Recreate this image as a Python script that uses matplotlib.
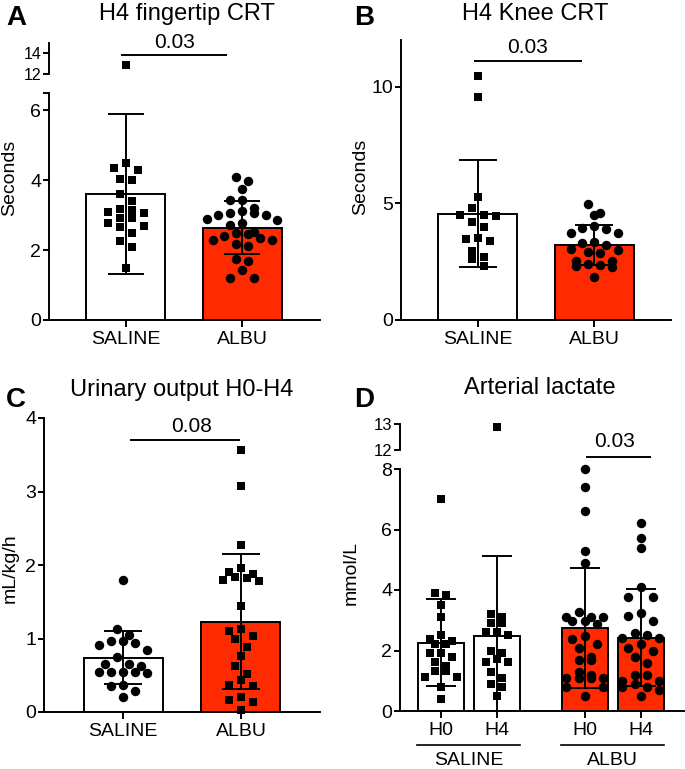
import numpy as np
import matplotlib
matplotlib.use("Agg")
import matplotlib.pyplot as plt

plt.rcParams['font.family'] = ['Liberation Sans', 'DejaVu Sans']

# ---- data ----
groups = ['SALINE', 'ALBU']

# A: H4 fingertip CRT (seconds)
crt_finger_saline = [12.9, 4.5, 4.36, 4.29, 4.05, 4.0, 3.6, 3.4, 3.19, 3.14, 3.1,
                     3.05, 2.93, 2.92, 2.78, 2.7, 2.65, 2.5, 2.27, 2.08, 1.5]
crt_finger_albu = [4.10, 3.97, 3.76, 3.43, 3.43, 3.21, 3.11, 3.07, 3.05, 3.0, 3.0,
                   2.88, 2.86, 2.79, 2.73, 2.52, 2.49, 2.45, 2.41, 2.35, 2.29, 2.29,
                   2.19, 2.11, 1.76, 1.69, 1.43, 1.19, 1.19]
crt_finger_mean = [3.62, 2.64]
crt_finger_sd = [2.29, 0.76]

# B: H4 knee CRT (seconds)
crt_knee_saline = [10.47, 9.57, 5.29, 4.79, 4.5, 4.46, 4.5, 4.21, 4.0, 3.5, 3.47,
                   3.39, 2.97, 2.71, 2.6, 2.33]
crt_knee_albu = [4.97, 4.6, 4.5, 4.03, 3.93, 3.89, 3.74, 3.71, 3.36, 3.29, 3.21,
                 3.03, 3.0, 2.9, 2.86, 2.54, 2.53, 2.4, 2.36, 2.31, 2.29, 1.83]
crt_knee_mean = [4.55, 3.21]
crt_knee_sd = [2.29, 0.85]

# C: urinary output H0-H4 (mL/kg/h)
urine_saline = [1.79, 1.13, 1.05, 0.97, 0.97, 0.94, 0.91, 0.85, 0.75, 0.65, 0.65,
                0.63, 0.55, 0.55, 0.53, 0.55, 0.55, 0.37, 0.36, 0.28, 0.2]
urine_albu = [3.57, 3.07, 2.27, 1.96, 1.91, 1.88, 1.83, 1.82, 1.8, 1.78, 1.44, 1.13,
              1.1, 1.03, 0.99, 0.88, 0.76, 0.62, 0.52, 0.43, 0.37, 0.35, 0.21,
              0.17, 0.14, 0.03]
urine_mean = [0.74, 1.23]
urine_sd = [0.365, 0.92]

# D: arterial lactate (mmol/L), H0 / H4 per group
times = ['H0', 'H4']
lact_saline_h0 = [7.0, 3.91, 3.83, 3.5, 3.1, 2.51, 2.38, 2.31, 2.21, 2.21, 1.93,
                  1.93, 1.8, 1.63, 1.49, 1.32, 1.32, 1.11, 1.11, 0.8, 0.4]
lact_saline_h4 = [12.9, 3.21, 3.1, 2.9, 2.9, 2.6, 2.6, 2.51, 1.99, 1.93, 1.71, 1.63,
                  1.63, 1.3, 1.08, 0.89, 0.78, 0.5]
lact_albu_h0 = [8.0, 7.4, 6.6, 5.29, 4.9, 3.28, 3.1, 3.1, 3.1, 2.99, 2.99, 2.88,
                2.48, 2.38, 2.2, 2.07, 1.8, 1.69, 1.69, 1.3, 1.19, 1.1, 1.1, 1.1,
                1.1, 0.8, 0.8, 0.5]
lact_albu_h4 = [6.2, 5.73, 5.4, 4.09, 3.78, 3.78, 3.23, 3.14, 2.99, 2.59, 2.51,
                2.4, 2.4, 2.2, 2.09, 1.99, 1.8, 1.6, 1.19, 1.19, 1.0, 1.0, 0.89,
                0.78, 0.78, 0.69, 0.5]
lact_mean = [2.25, 2.49, 2.75, 2.42]
lact_sd = [1.44, 2.65, 1.99, 1.6]

RED = '#FF2A00'
W, H = 685, 769
fig = plt.figure(figsize=(W / 100, H / 100), dpi=100)


def box(x0, y0, x1, y1):
    # pixel box (top-left origin) -> figure fraction rect
    return [x0 / W, 1 - y1 / H, (x1 - x0) / W, (y1 - y0) / H]


def style(ax, bottom=True):
    for s in ['top', 'right']:
        ax.spines[s].set_visible(False)
    ax.spines['left'].set_linewidth(1.4)
    ax.spines['bottom'].set_linewidth(1.4)
    ax.tick_params(axis='y', length=4.5, width=1.4, pad=1, labelsize=14)
    ax.tick_params(axis='x', length=5, width=1.4, pad=3, labelsize=14)
    ax.patch.set_alpha(0)
    if not bottom:
        ax.spines['bottom'].set_visible(False)
        ax.set_xticks([])


def swarm(ax, x0, vals, marker, ms, bw, ax_hi=None, gap=1.25):
    # prism-like scatter: close values go into one row, spread evenly about x0
    d = ms * 100 / 72
    lo_top = ax.get_ylim()[1]
    bw_px = ax.transData.transform((bw, 0))[0] - ax.transData.transform((0, 0))[0]
    max_n = int(bw_px / (d * gap)) + 1
    rows = []
    for v in sorted(vals, reverse=True):
        a = ax if (ax_hi is None or v <= lo_top) else ax_hi
        py = a.transData.transform((x0, v))[1]
        if (rows and rows[-1][0] is a and rows[-1][1] - py < d
                and len(rows[-1][2]) < max_n):
            rows[-1][2].append(v)
        else:
            rows.append([a, py, [v]])
    for a, _, rv in rows:
        n = len(rv)
        offs = sorted([(i - (n - 1) / 2) * d * gap for i in range(n)],
                      key=lambda o: (abs(o), o))
        px = a.transData.transform((x0, 0))[0]
        for v, o in zip(rv, offs):
            xd = a.transData.inverted().transform((px + o, 0))[0]
            a.plot(xd, v, marker=marker, ms=ms, color='black', mew=0, ls='none',
                   clip_on=False, zorder=4)


def bars(ax, pos, means, sds, width, cap, colors):
    ax.bar(pos, means, width=width, color=colors, edgecolor='black',
           linewidth=1.4, zorder=2)
    ax.errorbar(pos, means, yerr=sds, fmt='none', ecolor='black', elinewidth=1.4,
                capsize=cap, capthick=1.4, zorder=3)


# ---- A ----
axA = fig.add_axes(box(49, 93, 320, 320))
axA2 = fig.add_axes(box(49, 43, 320, 74))
axA.set_xlim(-0.66, 1.67)
axA.set_ylim(0, 6.5)
axA2.set_xlim(-0.66, 1.67)
axA2.set_ylim(12, 15)
style(axA)
style(axA2, bottom=False)
axA.set_yticks([0, 2, 4, 6, 6.5], ['0', '2', '4', '6', ''])
axA2.set_yticks([12, 14])
axA2.tick_params(axis='y', labelsize=11.5)
bars(axA, [0, 1], crt_finger_mean, crt_finger_sd, 0.68, 13, ['white', RED])
swarm(axA, 0, crt_finger_saline, 's', 6, 0.68, axA2, gap=1.45)
swarm(axA, 1, crt_finger_albu, 'o', 6.8, 0.68, axA2)
axA.set_xticks([0, 1], groups)
axA2.plot([-0.03, 0.86], [13.8, 13.8], color='black', lw=1.4, clip_on=False)
axA2.text(0.42, 14.48, '0.03', ha='center', va='baseline', fontsize=15)

# ---- B ----
axB = fig.add_axes(box(401, 40, 671, 320))
axB.set_xlim(-0.66, 1.66)
axB.set_ylim(0, 12)
style(axB)
axB.set_yticks([0, 5, 10])
bars(axB, [0, 1], crt_knee_mean, crt_knee_sd, 0.68, 14, ['white', RED])
swarm(axB, 0, crt_knee_saline, 's', 6, 0.68, gap=1.45)
swarm(axB, 1, crt_knee_albu, 'o', 6.8, 0.68)
axB.set_xticks([0, 1], groups)
axB.plot([-0.02, 0.89], [11.1, 11.1], color='black', lw=1.4, clip_on=False)
axB.text(0.43, 11.44, '0.03', ha='center', va='baseline', fontsize=15)

# ---- C ----
axC = fig.add_axes(box(44, 418, 320, 712))
axC.set_xlim(-0.67, 1.67)
axC.set_ylim(0, 4)
style(axC)
axC.set_yticks([0, 1, 2, 3, 4])
bars(axC, [0, 1], urine_mean, urine_sd, 0.67, 14, ['white', RED])
swarm(axC, 0, urine_saline, 'o', 6.8, 0.67)
swarm(axC, 1, urine_albu, 's', 6, 0.67, gap=1.45)
axC.set_xticks([0, 1], groups)
axC.plot([0.07, 0.98], [3.7, 3.7], color='black', lw=1.4, clip_on=False)
axC.text(0.58, 3.81, '0.08', ha='center', va='baseline', fontsize=15)

# ---- D ----
posD = [0, 1, 2.57, 3.57]
axD = fig.add_axes(box(400, 469, 690, 711))
axD2 = fig.add_axes(box(400, 424, 690, 450))
axD.set_xlim(-0.73, 4.45)
axD.set_ylim(0, 8)
axD2.set_xlim(-0.73, 4.45)
axD2.set_ylim(12, 13)
style(axD)
style(axD2, bottom=False)
axD.set_yticks([0, 2, 4, 6, 8])
axD2.set_yticks([12, 13])
axD2.tick_params(axis='y', labelsize=12)
bars(axD, posD, lact_mean, lact_sd, 0.815, 10.5, ['white', 'white', RED, RED])
lact_sets = [lact_saline_h0, lact_saline_h4, lact_albu_h0, lact_albu_h4]
for p, vals, m, s in zip(posD, lact_sets, ['s', 's', 'o', 'o'], [6, 6, 6.8, 6.8]):
    swarm(axD, p, vals, m, s, 0.815, axD2, gap=1.3)
axD.set_xticks(posD, times * 2)
xtr = axD.get_xaxis_transform()
for c, g in zip([0.5, 3.07], groups):
    axD.plot([c - 0.92, c + 0.92], [-0.14, -0.14], color='black', lw=1.2,
             transform=xtr, clip_on=False)
    axD.text(c, -0.223, g, ha='center', va='baseline', fontsize=14, transform=xtr)
axD.plot([2.61, 3.73], [8.4, 8.4], color='black', lw=1.4, clip_on=False)
axD.text(3.11, 8.73, '0.03', ha='center', va='baseline', fontsize=15)


# ---- titles, panel letters, y labels ----
def ftext(x, y, s, **kw):
    fig.text(x / W, 1 - y / H, s, **kw)


ftext(187, 20, 'H4 fingertip CRT', ha='center', va='baseline', fontsize=17)
ftext(535, 20, 'H4 Knee CRT', ha='center', va='baseline', fontsize=17)
ftext(182, 396, 'Urinary output H0-H4', ha='center', va='baseline', fontsize=17)
ftext(540, 394, 'Arterial lactate', ha='center', va='baseline', fontsize=17)
for x, y, s in [(6, 25, 'A'), (354, 25, 'B'), (6, 407, 'C'), (354, 407, 'D')]:
    ftext(x, y, s, ha='left', va='baseline', fontsize=20, fontweight='bold')
ftext(10, 178, 'Seconds', rotation=90, ha='center', va='center', fontsize=14)
ftext(361, 177, 'Seconds', rotation=90, ha='center', va='center', fontsize=14)
ftext(10, 568, 'mL/kg/h', rotation=90, ha='center', va='center', fontsize=14)
ftext(351, 573, 'mmol/L', rotation=90, ha='center', va='center', fontsize=14)

fig.savefig('out.png', dpi=100)
